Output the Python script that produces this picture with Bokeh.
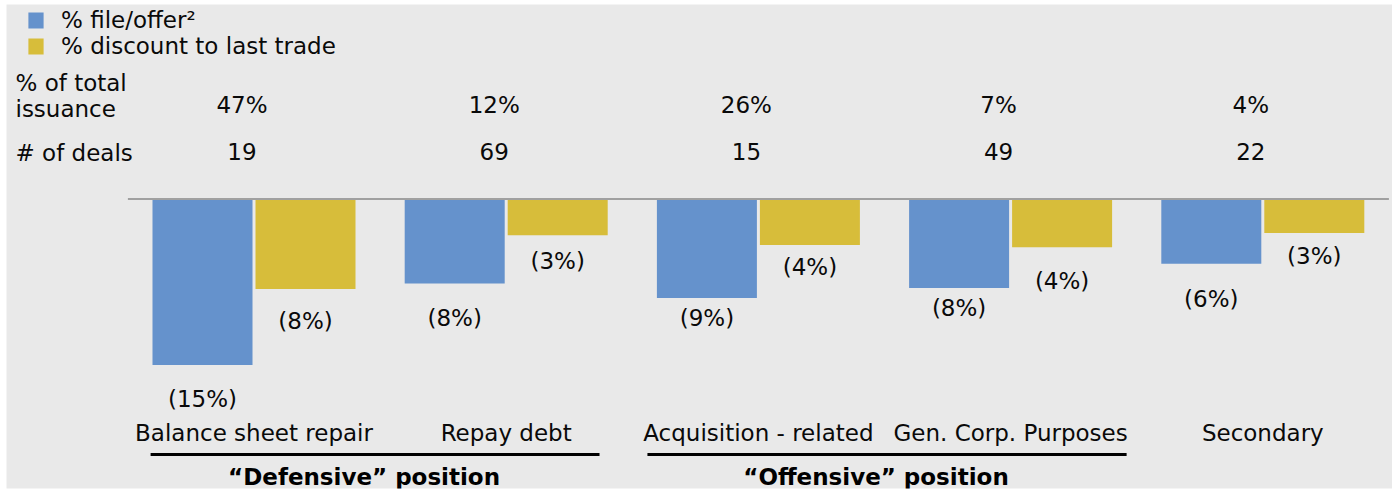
from bokeh.plotting import figure
from bokeh.models import Range1d, ColumnDataSource, Label, Legend, LegendItem
from bokeh.transform import dodge
from bokeh.core.properties import value
from bokeh.embed import file_html
from bokeh.resources import INLINE

# ---------------- data ----------------
categories = ["Balance sheet repair", "Repay debt", "Acquisition - related",
              "Gen. Corp. Purposes", "Secondary"]
file_offer = [-15.0, -7.6, -8.9, -8.0, -5.8]          # % file/offer
discount_last = [-8.1, -3.2, -4.1, -4.3, -3.0]        # % discount to last trade
file_offer_labels = ["(15%)", "(8%)", "(9%)", "(8%)", "(6%)"]
discount_labels = ["(8%)", "(3%)", "(4%)", "(4%)", "(3%)"]
share_of_issuance = ["47%", "12%", "26%", "7%", "4%"]
num_deals = ["19", "69", "15", "49", "22"]
group_titles = ["\u201cDefensive\u201d position", "\u201cOffensive\u201d position"]
series_names = ["% file/offer\u00b2", "% discount to last trade"]

# ---------------- style / layout ----------------
W, H = 1392, 489
LEFT, TOP, BOTTOM = 6, 4, 1
FW, FH = W - LEFT, H - TOP - BOTTOM
BG = "#e9e9e9"
BLUE = "#6592cc"
GOLD = "#d7bd3a"
INK = "#0a0a0a"
FONT = "DejaVu Sans"
FS = "23px"
PX_GROUP = 252.2      # pixels per category
PX_PCT = 11.0         # pixels per percentage point
GROUP0_PX = 253.5     # page x of first category centre
ZERO_PX = 199.5       # page y of zero line
# label placement (pixels below bar end), as hand-placed in the original
blue_label_gap = [34, 34, 20, 20, 35]
gold_label_gap = [32, 26, 22, 34, 23]
# bracket extents (in category units) under each group
bracket_spans = [(-0.41, 1.37), (1.56, 3.46)]

X0 = -(GROUP0_PX - LEFT) / PX_GROUP
X1 = X0 + FW / PX_GROUP
Y_TOP = (ZERO_PX - TOP) / PX_PCT
Y_BOT = Y_TOP - FH / PX_PCT


def xd(px):
    return X0 + (px - LEFT) / PX_GROUP


def yd(px):
    return Y_TOP - (px - TOP) / PX_PCT


BAR_W = 100 / PX_GROUP
BAR_OFF = 51.5 / PX_GROUP

n = len(categories)
xs = list(range(n))

src = ColumnDataSource(dict(
    x=xs, cat=categories, fo=file_offer, dl=discount_last,
    fol=file_offer_labels, dll=discount_labels,
    share=share_of_issuance, deals=num_deals,
    bgap=blue_label_gap, ggap=gold_label_gap,
))

p = figure(width=W, height=H, output_backend="svg", toolbar_location=None,
           x_range=Range1d(X0, X1), y_range=Range1d(Y_BOT, Y_TOP),
           min_border_left=LEFT, min_border_top=TOP, min_border_right=0,
           min_border_bottom=BOTTOM, border_fill_color="#ffffff",
           background_fill_color=BG, outline_line_color=None)
p.axis.visible = False
p.grid.visible = False

r_blue = p.vbar(x=dodge("x", -BAR_OFF), top=0, bottom="fo", width=BAR_W,
                source=src, fill_color=BLUE, line_color=None)
r_gold = p.vbar(x=dodge("x", BAR_OFF), top=0, bottom="dl", width=BAR_W,
                source=src, fill_color=GOLD, line_color=None)

# zero line across the category bands
p.segment(x0=[-0.5], x1=[n - 0.5], y0=[0.08], y1=[0.08], line_color="#a0a0a0", line_width=2)

# bar value labels
common = dict(text_font=value(FONT), text_font_size=FS, text_color=INK,
              text_align="center", text_baseline="middle")
p.text(x=dodge("x", -BAR_OFF), y="fo", text="fol", y_offset="bgap", source=src, **common)
p.text(x=dodge("x", BAR_OFF), y="dl", text="dll", y_offset="ggap", source=src, **common)

# top rows
p.text(x="x", y=yd(104), text="share", x_offset=-12, source=src, **common)
p.text(x="x", y=yd(151), text="deals", x_offset=-12, source=src, **common)

# category labels
p.text(x="x", y=yd(432), text="cat", source=src, **common)

# group brackets and titles
for title, (a, b) in zip(group_titles, bracket_spans):
    p.segment(x0=[a], x1=[b], y0=[yd(454)], y1=[yd(454)], line_color="#000000", line_width=3)
    p.add_layout(Label(x=(a + b) / 2, y=yd(476), text=title, x_offset=-11,
                       text_font=FONT, text_font_size=FS, text_font_style="bold",
                       text_color="#000000", text_align="center", text_baseline="middle"))

# row labels
for txt, ypx in [("% of total", 82), ("issuance", 108), ("# of deals", 152)]:
    p.add_layout(Label(x=xd(15), y=yd(ypx), text=txt, text_font=FONT, text_font_size=FS,
                       text_color=INK, text_align="left", text_baseline="middle"))

# legend
legend = Legend(items=[LegendItem(label=series_names[0], renderers=[r_blue]),
                       LegendItem(label=series_names[1], renderers=[r_gold])],
                location=(20, 429), orientation="vertical",
                glyph_width=19, glyph_height=20, label_standoff=16,
                label_text_font=FONT, label_text_font_size=FS, label_text_color=INK,
                label_height=16, spacing=-1, padding=0, margin=0,
                background_fill_alpha=0, border_line_alpha=0)
p.add_layout(legend)

open("out.html", "w").write(file_html(p, INLINE))
